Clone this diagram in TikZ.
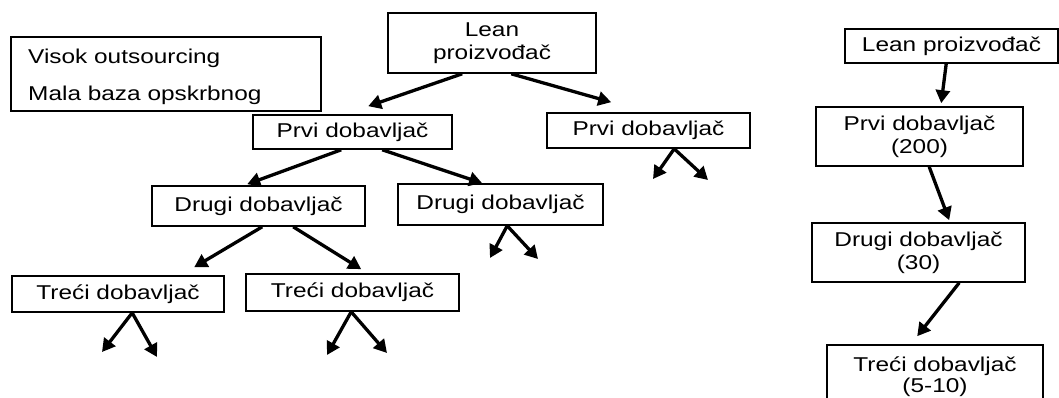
\documentclass[tikz,border=0pt]{standalone}
\usepackage{fontspec}
\setmainfont{Liberation Sans}[FakeStretch=1.22]
\usetikzlibrary{arrows.meta}
\begin{document}
\begin{tikzpicture}[x=1pt,y=-1pt,
  box/.style={draw,line width=1.6pt,inner sep=0pt,align=center,font=\fontsize{20}{23}\selectfont},
  txt/.style={inner sep=0pt,font=\fontsize{20}{23}\selectfont},
  arr/.style={line width=3.3pt,-{Triangle[length=13pt,width=14pt]}}]
\useasboundingbox (0,0) rectangle (1059,398);
\clip (0,0) rectangle (1059,398);
% left tree
\node[box,minimum width=310pt,minimum height=74pt] (vis) at (166,74) {};
\node[txt,anchor=base west] (v1) at (28,64) {Visok outsourcing};
\node[txt,anchor=base west] (v2) at (28,101) {Mala baza opskrbnog};
\node[box,minimum width=208pt,minimum height=60pt] (lean) at (492,43) {Lean\\proizvođač};
\node[box,minimum width=199pt,minimum height=34pt] (prvL) at (352.5,132) {Prvi dobavljač};
\node[box,minimum width=203pt,minimum height=35pt] (prvR) at (648.5,130.5) {Prvi dobavljač};
\node[box,minimum width=213pt,minimum height=40pt] (druL) at (258.5,206) {Drugi dobavljač};
\node[box,minimum width=205pt,minimum height=41pt] (druR) at (500.5,204.5) {Drugi dobavljač};
\node[box,minimum width=212pt,minimum height=36pt] (treL) at (118,294) {Treći dobavljač};
\node[box,minimum width=213pt,minimum height=37pt] (treM) at (352.5,292.5) {Treći dobavljač};
% right column
\node[box,minimum width=213pt,minimum height=34pt] (rLean) at (951.5,46) {Lean proizvođač};
\node[box,minimum width=207pt,minimum height=59pt] (r1) at (919.5,136.5) {Prvi dobavljač\\(200)};
\node[box,minimum width=213pt,minimum height=59pt] (r2) at (918.5,252.5) {Drugi dobavljač\\(30)};
\node[box,minimum width=216pt,minimum height=64pt,font=\fontsize{20}{21}\selectfont] (r3) at (935,377) {Treći dobavljač\\(5-10)};
% free ends
\coordinate (pR1) at (653,179);
\coordinate (pR2) at (708,180);
\coordinate (dR1) at (490,258);
\coordinate (dR2) at (538,259);
\coordinate (tL1) at (102,352);
\coordinate (tL2) at (157,357);
\coordinate (tM1) at (327,355);
\coordinate (tM2) at (387,353);
% connectors
\draw[arr] ([xshift=75pt]lean.south west) -- ([xshift=116pt,yshift=8pt]prvL.north west);
\draw[arr] ([xshift=124pt]lean.south west) -- ([xshift=65pt,yshift=10pt]prvR.north west);
\draw[arr] ([xshift=89pt]prvL.south west) -- ([xshift=96pt,yshift=1pt]druL.north west);
\draw[arr] ([xshift=130pt]prvL.south west) -- ([xshift=85pt]druR.north west);
\draw[arr] ([xshift=128pt]prvR.south west) -- (pR1);
\draw[arr] ([xshift=128pt]prvR.south west) -- (pR2);
\draw[arr] ([xshift=111pt]druL.south west) -- ([xshift=183pt,yshift=8pt]treL.north west);
\draw[arr] ([xshift=142pt]druL.south west) -- ([xshift=116pt,yshift=4pt]treM.north west);
\draw[arr] ([xshift=110pt]druR.south west) -- (dR1);
\draw[arr] ([xshift=110pt]druR.south west) -- (dR2);
\draw[arr] ([xshift=121pt]treL.south west) -- (tL1);
\draw[arr] ([xshift=121pt]treL.south west) -- (tL2);
\draw[arr] ([xshift=106pt]treM.south west) -- (tM1);
\draw[arr] ([xshift=106pt]treM.south west) -- (tM2);
\draw[arr] ([xshift=102pt]rLean.south west) -- ([xshift=126pt,yshift=3pt]r1.north west);
\draw[arr] ([xshift=114pt]r1.south west) -- ([xshift=138pt,yshift=2pt]r2.north west);
\draw[arr] ([xshift=148pt]r2.south west) -- ([xshift=91pt,yshift=8pt]r3.north west);
\end{tikzpicture}
\end{document}
